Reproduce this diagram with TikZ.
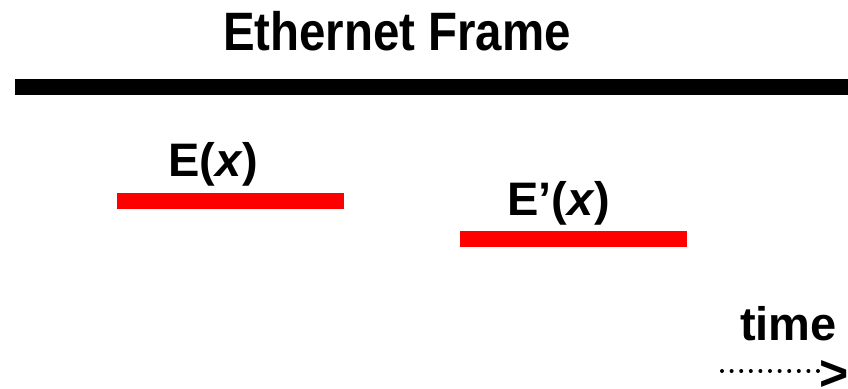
\documentclass[tikz,border=0pt]{standalone}
\usepackage{fontspec}
\setmainfont{Liberation Sans}
\begin{document}
\begin{tikzpicture}[x=1pt,y=-1pt,
  lbl/.style={inner sep=0pt,font=\bfseries\fontsize{47}{50}\selectfont},
  redbar/.style={fill=red,draw=none},
  blackbar/.style={fill=black,draw=none}]
\useasboundingbox (0,0) rectangle (848,388);
\clip (0,0) rectangle (848,388);
\node[lbl,anchor=base,font=\bfseries\fontsize{51}{54}\selectfont,xscale=0.93,yscale=1.06] (title) at (397,50) {Ethernet Frame};
\fill[blackbar] (15,79) rectangle (848,95);
\node[lbl,anchor=base west] (ex) at (168,176) {E(\textit{x})};
\fill[redbar] (117,193) rectangle (344,209);
\node[lbl,anchor=base west] (epx) at (507,215) {E’(\textit{x})};
\fill[redbar] (460,231) rectangle (687,247);
\node[lbl,anchor=base west] (time) at (740,340) {time};
\coordinate (d0) at (722,371);
\coordinate (d1) at (818,371);
\draw[line width=4pt,line cap=round,dash pattern=on 0pt off 9.6pt] (d0) -- (d1);
\node[lbl,anchor=base west,font=\bfseries\fontsize{50}{52}\selectfont] (arr) at (819,390) {>};
\end{tikzpicture}
\end{document}
